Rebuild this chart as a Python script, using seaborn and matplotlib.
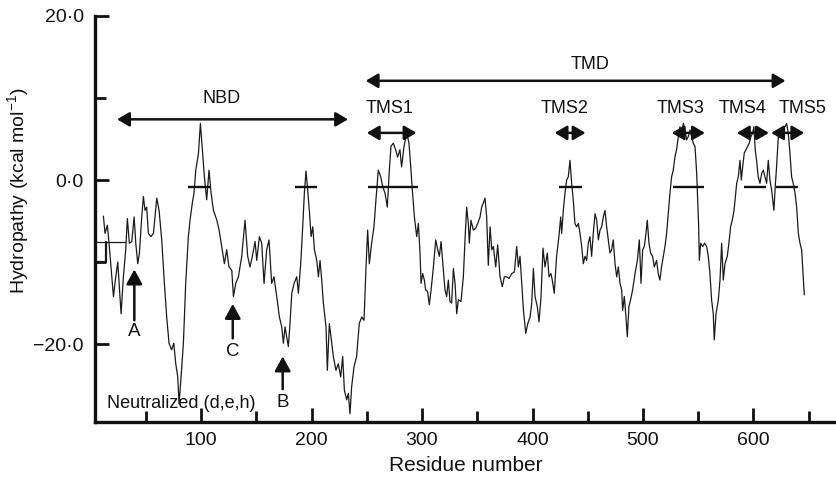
#!/usr/bin/env python3
"""Hydropathy profile with domain / TMS annotations."""

import matplotlib
matplotlib.use("Agg")
import matplotlib.pyplot as plt
import pandas as pd
import seaborn as sns

# hydropathy trace (residue, kcal/mol)
residue = [
    11.6, 13.1, 15.2, 16.7, 18.5, 20.7, 22.8, 24.6, 25.8, 27.6, 29.7, 31.8, 33.3, 35.1,
    37.3, 39.4, 40.9, 42.7, 44.2, 46.3, 47.8, 49.3, 50.8, 52.3, 54.7, 56.9, 59.9, 62.0,
    64.4, 66.8, 68.9, 71.0, 73.4, 75.3, 77.1, 78.9, 80.1, 81.9, 84.0, 86.1, 88.5, 90.0,
    92.1, 93.6, 95.2, 97.6, 99.4, 101.2, 103.0, 105.1, 107.2, 109.1, 111.2, 114.3, 116.3,
    118.7, 121.1, 123.2, 125.3, 127.8, 129.3, 131.4, 133.8, 136.8, 139.8, 142.2, 144.3,
    146.4, 148.9, 150.4, 152.8, 154.9, 157.0, 159.4, 161.5, 163.9, 166.0, 168.5, 170.9,
    173.0, 174.5, 176.0, 177.5, 179.0, 180.5, 182.1, 184.2, 186.6, 188.1, 190.2, 192.0,
    193.5, 195.0, 196.5, 198.0, 199.6, 201.1, 202.6, 204.7, 206.2, 207.7, 209.2, 210.7,
    213.1, 214.3, 216.1, 217.6, 219.7, 222.1, 224.2, 226.4, 228.2, 229.7, 231.8, 233.3,
    234.8, 236.3, 238.4, 240.8, 243.2, 245.4, 247.5, 249.3, 250.8, 252.3, 254.4, 256.5,
    258.3, 260.4, 262.6, 264.4, 266.5, 268.6, 270.4, 271.9, 274.0, 276.1, 277.9, 280.0,
    281.5, 283.7, 286.1, 288.2, 290.0, 291.2, 293.1, 295.2, 296.7, 298.2, 299.1, 300.6,
    302.1, 303.3, 305.1, 306.6, 308.2, 310.3, 312.4, 314.2, 315.7, 317.2, 319.3, 320.8,
    322.3, 323.8, 325.3, 326.8, 328.4, 329.9, 331.4, 332.9, 335.3, 337.4, 338.9, 340.4,
    341.9, 342.8, 344.3, 346.4, 348.5, 350.4, 352.5, 354.0, 355.5, 357.0, 358.5, 360.0,
    361.6, 363.1, 364.6, 366.7, 368.5, 370.6, 372.7, 374.5, 376.6, 378.8, 381.2, 383.6,
    385.7, 387.2, 388.7, 390.2, 391.8, 393.9, 395.7, 397.8, 399.3, 400.8, 402.3, 404.4,
    405.9, 407.7, 409.5, 411.3, 413.4, 414.9, 416.7, 417.9, 419.7, 421.8, 423.9, 425.5,
    426.4, 427.9, 429.4, 430.9, 432.4, 433.9, 435.4, 436.9, 438.4, 439.9, 441.5, 443.0,
    444.5, 446.0, 447.5, 449.0, 450.5, 452.0, 453.5, 455.0, 456.6, 458.1, 459.6, 461.1,
    462.6, 464.1, 465.6, 467.1, 468.6, 470.1, 471.6, 473.1, 474.7, 476.2, 477.7, 479.2,
    480.7, 481.6, 483.1, 484.6, 485.8, 487.3, 488.8, 490.6, 492.8, 494.9, 496.7, 498.2,
    499.7, 501.2, 502.7, 503.9, 505.4, 506.9, 508.7, 510.2, 512.3, 513.8, 515.3, 516.8,
    518.4, 519.9, 521.4, 522.9, 524.4, 525.9, 527.4, 528.9, 530.4, 532.0, 533.5, 535.0,
    536.5, 538.0, 539.5, 541.0, 542.5, 544.0, 545.5, 547.1, 548.6, 549.5, 550.4, 551.0,
    552.2, 554.0, 555.8, 557.6, 559.1, 560.6, 562.1, 563.6, 564.5, 566.1, 568.2, 569.7,
    571.2, 572.7, 574.2, 576.3, 578.1, 579.3, 580.8, 582.4, 583.6, 584.8, 586.3, 587.8,
    589.0, 590.2, 591.7, 593.2, 594.7, 596.2, 597.7, 599.2, 600.4, 601.6, 602.8, 604.3,
    605.9, 607.4, 608.9, 610.4, 611.9, 613.4, 614.9, 616.4, 618.5, 619.7, 620.9, 622.5,
    624.0, 625.5, 627.0, 628.5, 630.0, 631.5, 633.0, 634.5, 636.0, 637.6, 639.1, 640.6,
    642.1, 643.6, 645.1, 646.0,
]
hydropathy = [
    -4.4, -6.5, -5.5, -7.7, -10.6, -14.2, -11.8, -10.0, -12.6, -16.3, -11.8, -8.5, -4.7, -7.7,
    -7.5, -4.5, -7.7, -10.2, -8.9, -4.5, -2.0, -3.7, -3.3, -6.5, -6.9, -6.5, -2.2, -3.7,
    -7.3, -12.6, -16.7, -19.9, -20.7, -19.9, -22.4, -24.0, -27.3, -24.0, -19.9, -12.6, -6.9, -4.9,
    -2.8, -1.6, 1.2, 3.2, 6.9, 3.7, 0.4, -2.4, 1.2, -1.6, -3.7, -4.9, -6.1,
    -8.1, -10.2, -8.5, -10.6, -11.0, -14.2, -12.6, -11.8, -9.3, -4.9, -9.3, -10.6,
    -9.3, -7.5, -9.8, -6.9, -7.7, -12.6, -8.5, -7.3, -12.6, -11.8, -14.2, -16.7,
    -17.9, -19.9, -17.9, -19.1, -20.3, -17.5, -13.8, -12.6, -11.8, -13.8, -10.2, -5.7,
    -1.6, 1.1, -1.2, -3.7, -6.9, -5.7, -8.5, -9.8, -11.8, -9.8, -12.2, -15.0,
    -17.9, -23.2, -17.5, -19.1, -21.5, -23.2, -22.4, -24.0, -21.5, -25.6, -26.8, -26.0,
    -28.5, -25.2, -22.8, -21.5, -17.5, -16.7, -17.1, -10.6, -6.1, -10.2, -7.7, -5.7,
    -2.4, 1.2, 0.4, -0.8, -1.6, -3.3, 1.2, 4.1, 4.5, 3.7, 2.8, 3.7,
    1.6, 4.1, 5.7, 4.5, 1.2, -1.2, -4.5, -6.9, -5.3, -8.9, -12.6, -11.4,
    -12.2, -13.4, -13.6, -15.2, -13.4, -10.6, -7.3, -8.5, -9.3, -7.5, -11.0, -13.4,
    -14.2, -12.2, -14.8, -15.0, -10.8, -12.6, -16.3, -14.6, -14.8, -11.8, -7.3, -3.3,
    -5.3, -7.7, -4.9, -6.1, -5.9, -5.3, -4.5, -3.3, -2.8, -2.2, -4.5, -10.4,
    -5.7, -8.5, -8.1, -10.6, -7.9, -11.8, -13.0, -11.8, -11.8, -12.0, -11.4, -11.2,
    -8.1, -10.6, -9.3, -12.6, -15.9, -18.7, -17.5, -16.7, -15.0, -10.8, -14.2, -15.5,
    -17.3, -14.2, -8.3, -10.6, -8.9, -11.8, -11.4, -12.2, -13.8, -9.3, -6.9, -4.5,
    -6.5, -3.7, -1.6, 0.0, 0.4, 2.4, -0.4, -2.4, -5.3, -5.7, -5.3, -6.5,
    -8.1, -10.2, -9.3, -9.8, -7.7, -6.9, -9.3, -6.5, -4.1, -4.9, -7.3, -6.1,
    -5.7, -4.5, -3.7, -5.7, -7.3, -8.9, -8.5, -7.3, -10.2, -11.8, -10.6, -12.6,
    -13.4, -15.9, -14.2, -16.7, -19.1, -15.4, -14.6, -13.4, -11.4, -9.8, -7.3, -12.6,
    -8.5, -8.1, -6.5, -4.9, -7.7, -8.9, -9.3, -10.6, -9.8, -11.4, -12.2, -10.6,
    -9.3, -8.1, -6.5, -4.1, -1.6, 0.4, 1.2, 2.8, 3.7, 5.3, 6.5, 5.7,
    6.9, 6.1, 4.9, 5.3, 6.1, 5.3, 4.5, 4.1, 0.8, -2.4, -5.7, -9.8,
    -7.7, -8.1, -7.7, -8.1, -9.3, -11.4, -14.6, -16.3, -19.5, -16.3, -14.6, -12.2,
    -7.7, -12.2, -10.2, -9.3, -7.3, -5.7, -4.9, -3.7, -2.0, -0.4, 0.4, 2.4,
    0.0, 1.6, 3.3, 3.7, 4.1, 4.5, 5.3, 5.7, 6.5, 3.7, 2.4, 0.4,
    -0.4, 0.8, 1.2, 0.4, -0.4, 2.4, 0.0, -1.2, -3.7, -0.8, 1.6, 5.3,
    5.7, 6.1, 6.5, 6.5, 6.9, 5.7, 3.3, 0.4, -0.4, -1.6, -3.3, -6.5,
    -7.7, -8.5, -11.8, -14.0,
]

# threshold segments (start, end) at the -0.85 level
seg_start = [88, 185, 251, 424, 527, 591, 620]
seg_end = [108, 205, 296, 445, 555, 611, 640]
seg_level = -0.85

# left baseline step
step_x = [4, 14, 14]
step_y = [-10.0, -10.0, -7.6]
base_x = [4, 31]
base_y = [-7.6, -7.6]

# double-headed region arrows
region_names = ["NBD", "TMD", "TMS1", "TMS2", "TMS3", "TMS4", "TMS5"]
region_start = [24, 249, 250, 420, 526, 585, 616]
region_end = [233, 629, 295, 448, 556, 614, 646]
region_y = [7.4, 12.1, 5.75, 5.75, 5.75, 5.75, 5.75]
label_x = [119, 452, 271, 429, 534, 590.5, 644]
label_y = [10.0, 14.1, 8.7, 8.7, 8.7, 8.7, 8.7]

# single-headed site markers
site_names = ["A", "C", "B"]
site_x = [39.6, 128.7, 173.9]
site_tail = [-17.1, -19.3, -25.5]
site_tip = [-10.9, -15.1, -21.5]
site_label_y = [-18.5, -20.9, -27.1]

df = pd.DataFrame({"residue": residue, "hydropathy": hydropathy})

sns.set_theme(style="ticks")
plt.rcParams["font.family"] = ["Liberation Sans", "DejaVu Sans"]
plt.rcParams["mathtext.default"] = "regular"

INK = "#111111"

fig = plt.figure(figsize=(8.36, 4.78), dpi=100)
ax = fig.add_axes([95 / 836, 1 - 422 / 478, 741 / 836, 406 / 478])

sns.lineplot(data=df, x="residue", y="hydropathy", ax=ax, color="#1a1a1a",
             linewidth=0.9, estimator=None, sort=False)

ax.plot(step_x, step_y, color="#1a1a1a", lw=1.6)
ax.plot(base_x, base_y, color="#1a1a1a", lw=0.9)
ax.hlines([seg_level] * len(seg_start), seg_start, seg_end, color=INK, lw=1.7)

for name, x0, x1, y, lx, ly in zip(region_names, region_start, region_end,
                                    region_y, label_x, label_y):
    ax.annotate("", xy=(x1, y), xytext=(x0, y),
                arrowprops=dict(arrowstyle="<|-|>,head_length=0.46,head_width=0.27",
                                color=INK, lw=1.8, mutation_scale=16,
                                shrinkA=0, shrinkB=0))
    ax.text(lx, ly, name, ha="center", va="center", fontsize=13, color=INK)

for name, x, y0, y1, ly in zip(site_names, site_x, site_tail, site_tip, site_label_y):
    ax.annotate("", xy=(x, y1), xytext=(x, y0),
                arrowprops=dict(arrowstyle="-|>,head_length=0.55,head_width=0.3",
                                color=INK, lw=1.8, mutation_scale=16,
                                shrinkA=0, shrinkB=0))
    ax.text(x, ly, name, ha="center", va="center", fontsize=13.5, color=INK)

ax.text(15.2, -27.2, "Neutralized (d,e,h)", ha="left", va="center", fontsize=13,
        color=INK)

ax.set_xlim(4, 674.7)
ax.set_ylim(-29.5, 20)
ax.set_xticks([100, 200, 300, 400, 500, 600])
ax.set_xticks([50, 150, 250, 350, 450, 550, 650], minor=True)
ax.set_yticks([-20, 0, 20], labels=["\u221220\u00b70", "0\u00b70", "20\u00b70"])
ax.set_yticks([-10, 10], minor=True)
ax.tick_params(which="both", direction="in", width=2, colors=INK,
               labelsize=14, labelcolor=INK)
ax.tick_params(which="major", length=10)
ax.tick_params(which="minor", length=8)
ax.tick_params(axis="x", which="major", pad=7)
ax.tick_params(axis="y", which="major", pad=8)

for side in ["left", "bottom"]:
    ax.spines[side].set_linewidth(2.4)
    ax.spines[side].set_color(INK)
sns.despine(ax=ax)

ax.set_xlabel("Residue number", fontsize=15, color=INK, labelpad=5)
ax.set_ylabel("Hydropathy (kcal mol$^{-1}$)", fontsize=14, color=INK)
ax.yaxis.set_label_coords(-0.086, 0.571)

fig.savefig("out.png", dpi=100)
